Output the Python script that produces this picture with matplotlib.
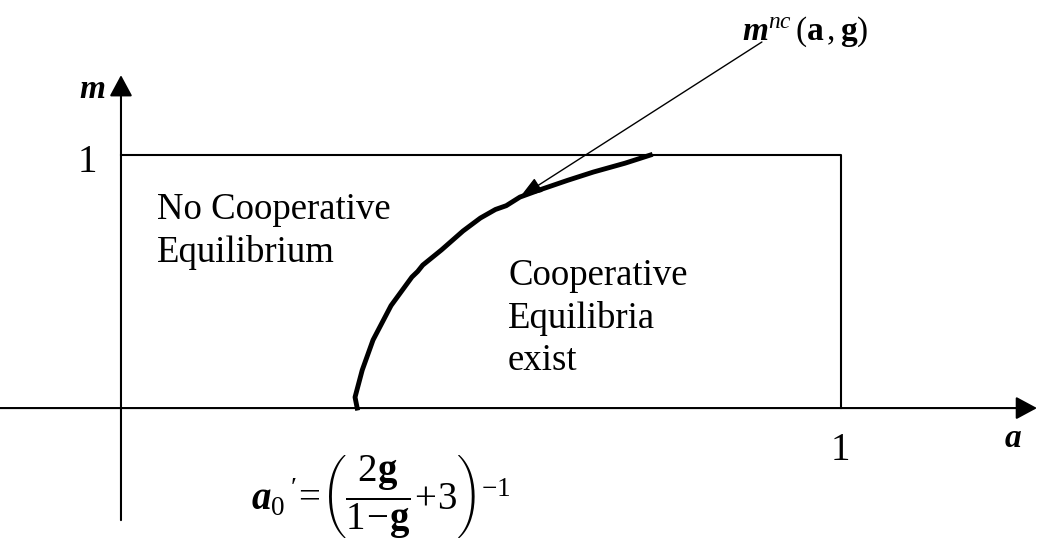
import matplotlib
matplotlib.use("Agg")
from matplotlib import pyplot as plt

plt.rcParams['font.family'] = ['Liberation Serif', 'DejaVu Serif']
plt.rcParams['mathtext.fontset'] = 'custom'
plt.rcParams['mathtext.rm'] = 'Liberation Serif'
plt.rcParams['mathtext.it'] = 'Liberation Serif:italic'
plt.rcParams['mathtext.bf'] = 'Liberation Serif:bold'
plt.rcParams['mathtext.bfit'] = 'Liberation Serif:italic:bold'

# boundary curve m^nc(a, g)
curve_a = [0.328, 0.325, 0.335, 0.350, 0.375, 0.404, 0.412, 0.419, 0.445, 0.475,
           0.499, 0.520, 0.535, 0.554, 0.581, 0.620, 0.656, 0.700, 0.735]
curve_m = [0.000, 0.043, 0.150, 0.269, 0.405, 0.518, 0.540, 0.565, 0.625, 0.700,
           0.751, 0.785, 0.800, 0.834, 0.862, 0.900, 0.933, 0.968, 1.000]

# unit box
box_a = [0, 1, 1]
box_m = [1, 1, 0]

left_lines = ["No Cooperative", "Equilibrium"]
right_lines = ["Cooperative", "Equilibria", "exist"]

fig = plt.figure(figsize=(10.37, 5.51), dpi=100)
ax = fig.add_axes([0, 0, 1, 1])
ax.set_xlim(-0.168, 1.272)
ax.set_ylim(-0.565, 1.613)
ax.axis('off')

# axes with arrow heads
ax.annotate('', xy=(1.272, 0), xytext=(-0.168, 0),
            arrowprops=dict(arrowstyle='-|>,head_length=13,head_width=7',
                            mutation_scale=1, lw=1.5, color='black',
                            shrinkA=0, shrinkB=0))
ax.annotate('', xy=(0, 1.316), xytext=(0, -0.443),
            arrowprops=dict(arrowstyle='-|>,head_length=13,head_width=7',
                            mutation_scale=1, lw=1.5, color='black',
                            shrinkA=0, shrinkB=0))

ax.plot(box_a, box_m, color='black', lw=1.5)
ax.plot(curve_a, curve_m, color='black', lw=3.5, solid_joinstyle='round')

# pointer to the curve
ax.annotate('', xy=(curve_a[13], curve_m[13]), xytext=(0.890, 1.447),
            arrowprops=dict(arrowstyle='-|>,head_length=14,head_width=5',
                            mutation_scale=1, lw=1.0, color='black',
                            shrinkA=0, shrinkB=0))
ax.text(0.95, 1.455, r'$\mathbfit{m}^{nc}\,(\mathbf{a}\,,\mathbf{g})$',
        fontsize=24, ha='center', va='baseline')

ax.text(-0.040, 1.225, 'm', fontsize=24, fontweight='bold', fontstyle='italic',
        ha='center', va='baseline')
ax.text(-0.047, 0.933, '1', fontsize=28, ha='center', va='baseline')
ax.text(0.999, -0.206, '1', fontsize=28, ha='center', va='baseline')
ax.text(1.239, -0.154, 'a', fontsize=24, fontweight='bold', fontstyle='italic',
        ha='center', va='baseline')

for i, line in enumerate(left_lines):
    ax.text(0.05, 0.747 - i * 0.17, line, fontsize=26.5, va='baseline')
for i, line in enumerate(right_lines):
    ax.text(0.5375, 0.486 - i * 0.168, line, fontsize=26.5, va='baseline')

ax.text(0.361, -0.35,
        r"$\mathbfit{a}_0\,'\!=\!\left(\dfrac{2\mathbf{g}}{1\!-\!\mathbf{g}}\!+\!3\right)^{-1}$",
        fontsize=28, ha='center', va='center')

fig.savefig('out.png', dpi=100)
